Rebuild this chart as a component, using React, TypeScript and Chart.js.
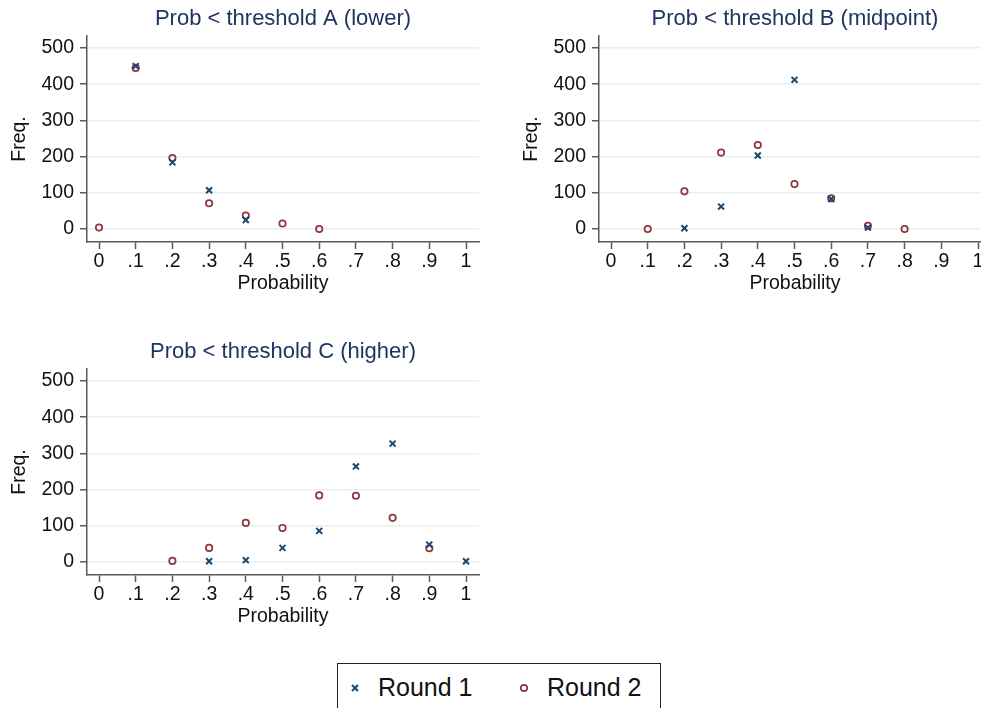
import React, { useEffect, useRef } from "react";
import { Chart, registerables } from "chart.js";

Chart.register(...registerables);

// ---------- data ----------
const probabilities = [0, 0.1, 0.2, 0.3, 0.4, 0.5, 0.6, 0.7, 0.8, 0.9, 1];
const yTickValues = [0, 100, 200, 300, 400, 500];

const panelTitles = [
  "Prob < threshold A (lower)",
  "Prob < threshold B (midpoint)",
  "Prob < threshold C (higher)",
];
const seriesNames = ["Round 1", "Round 2"];

const roundOneA = [null, 450, 184, 107, 25, null, null, null, null, null, null];
const roundTwoA = [4, 445, 196, 71, 37, 15, 0, null, null, null, null];
const roundOneB = [null, null, 2, 62, 203, 412, 83, 4, null, null, null];
const roundTwoB = [null, 0, 104, 211, 232, 124, 85, 9, 0, null, null];
const roundOneC = [null, null, null, 2, 5, 39, 86, 264, 327, 48, 2];
const roundTwoC = [null, null, 3, 39, 108, 94, 184, 183, 122, 38, null];

const xAxisLabel = "Probability";
const yAxisLabel = "Freq.";

// ---------- styles ----------
const FONT = "'Liberation Sans', Arial, Helvetica, sans-serif";
const NAVY = "#1a476f";
const MAROON = "#90353b";
const TITLE_COLOR = "#1f3560";
const AXIS_COLOR = "#5a5a5a";
const GRID_COLOR = "#e8f0f2";

const toPoints = (vals: (number | null)[]) =>
  probabilities
    .map((p, i) => (vals[i] === null ? null : { x: p, y: vals[i] as number }))
    .filter((d) => d !== null) as { x: number; y: number }[];

const fmtProb = (v: number) => {
  if (Math.abs(v) < 1e-9) return "0";
  if (Math.abs(v - 1) < 1e-9) return "1";
  return "." + Math.round(v * 10);
};

const titlePlugin = (title: string) => ({
  id: "panelTitle",
  afterDraw(chart: any) {
    const { ctx, chartArea } = chart;
    ctx.save();
    ctx.font = `22px ${FONT}`;
    ctx.fillStyle = TITLE_COLOR;
    ctx.textAlign = "center";
    ctx.textBaseline = "middle";
    ctx.fillText(title, (chartArea.left + chartArea.right) / 2, 18.5);
    ctx.restore();
  },
});

function Panel({
  title,
  r1,
  r2,
  left,
  top,
}: {
  title: string;
  r1: (number | null)[];
  r2: (number | null)[];
  left: number;
  top: number;
}) {
  const ref = useRef<HTMLCanvasElement | null>(null);
  useEffect(() => {
    if (!ref.current) return;
    const chart = new Chart(ref.current, {
      type: "scatter",
      data: {
        datasets: [
          {
            label: seriesNames[0],
            data: toPoints(r1),
            pointStyle: "crossRot",
            pointRadius: 4.2,
            borderColor: NAVY,
            backgroundColor: NAVY,
            borderWidth: 2,
            order: 1,
          },
          {
            label: seriesNames[1],
            data: toPoints(r2),
            pointStyle: "circle",
            pointRadius: 3.2,
            borderColor: MAROON,
            backgroundColor: "rgba(0,0,0,0)",
            borderWidth: 1.7,
            order: 2,
          },
        ],
      },
      options: {
        animation: false,
        responsive: false,
        devicePixelRatio: 1,
        layout: { padding: { left: 0, top: 36, right: 11, bottom: 0 } },
        plugins: {
          legend: { display: false },
          tooltip: { enabled: false },
          title: { display: false },
        },
        scales: {
          x: {
            type: "linear",
            min: -0.0327,
            max: 1.0354,
            afterBuildTicks: (s: any) => {
              s.ticks = probabilities.map((v) => ({ value: v }));
            },
            afterFit: (s: any) => {
              s.height = 58;
            },
            ticks: {
              callback: (v: any) => fmtProb(Number(v)),
              font: { family: FONT, size: 19.5 },
              color: "#111",
              padding: 1,
              maxRotation: 0,
              autoSkip: false,
            },
            grid: {
              drawOnChartArea: false,
              drawTicks: true,
              tickLength: 7,
              tickColor: AXIS_COLOR,
              tickWidth: 1.5,
            },
            border: { display: true, color: AXIS_COLOR, width: 1.5 },
            title: {
              display: true,
              text: xAxisLabel,
              font: { family: FONT, size: 19.5 },
              color: "#111",
              padding: { top: 0, bottom: 5 },
            },
          },
          y: {
            type: "linear",
            min: -35.9,
            max: 533.1,
            afterBuildTicks: (s: any) => {
              s.ticks = yTickValues.map((v) => ({ value: v }));
            },
            afterFit: (s: any) => {
              s.width = 87;
            },
            ticks: {
              font: { family: FONT, size: 19.5 },
              color: "#111",
              padding: 6,
            },
            grid: {
              color: GRID_COLOR,
              lineWidth: 1.5,
              drawTicks: true,
              tickLength: 7,
              tickColor: AXIS_COLOR,
              tickWidth: 1.5,
            },
            border: { display: true, color: AXIS_COLOR, width: 1.5 },
            title: {
              display: true,
              text: yAxisLabel,
              font: { family: FONT, size: 19.5 },
              color: "#111",
              padding: { top: 8, bottom: 0 },
            },
          },
        },
      },
      plugins: [titlePlugin(title)],
    } as any);
    return () => chart.destroy();
  }, [title, r1, r2]);

  return (
    <canvas
      ref={ref}
      width={490}
      height={300}
      style={{ position: "absolute", left, top, width: 490, height: 300 }}
    />
  );
}

function LegendMarkerCross() {
  return (
    <svg width="12" height="12" style={{ position: "absolute", left: 11, top: 18 }}>
      <line x1="3" y1="3" x2="9" y2="9" stroke={NAVY} strokeWidth="2" />
      <line x1="9" y1="3" x2="3" y2="9" stroke={NAVY} strokeWidth="2" />
    </svg>
  );
}

function LegendMarkerCircle() {
  return (
    <svg width="12" height="12" style={{ position: "absolute", left: 180, top: 18 }}>
      <circle cx="6" cy="6" r="3.2" fill="none" stroke={MAROON} strokeWidth="1.7" />
    </svg>
  );
}

export default function App() {
  return (
    <div
      style={{
        position: "absolute",
        left: 0,
        top: 0,
        width: 981,
        height: 708,
        overflow: "hidden",
        background: "#fff",
      }}
    >
      <Panel title={panelTitles[0]} r1={roundOneA} r2={roundTwoA} left={0} top={0} />
      <Panel title={panelTitles[1]} r1={roundOneB} r2={roundTwoB} left={512} top={0} />
      <Panel title={panelTitles[2]} r1={roundOneC} r2={roundTwoC} left={0} top={333} />
      <div
        style={{
          position: "absolute",
          left: 337,
          top: 663,
          width: 322,
          height: 60,
          border: "1.5px solid #222",
          fontFamily: FONT,
          fontSize: 25,
          color: "#111",
        }}
      >
        <LegendMarkerCross />
        <span style={{ position: "absolute", left: 40, top: 8, lineHeight: "30px" }}>
          {seriesNames[0]}
        </span>
        <LegendMarkerCircle />
        <span style={{ position: "absolute", left: 209, top: 8, lineHeight: "30px" }}>
          {seriesNames[1]}
        </span>
      </div>
    </div>
  );
}
